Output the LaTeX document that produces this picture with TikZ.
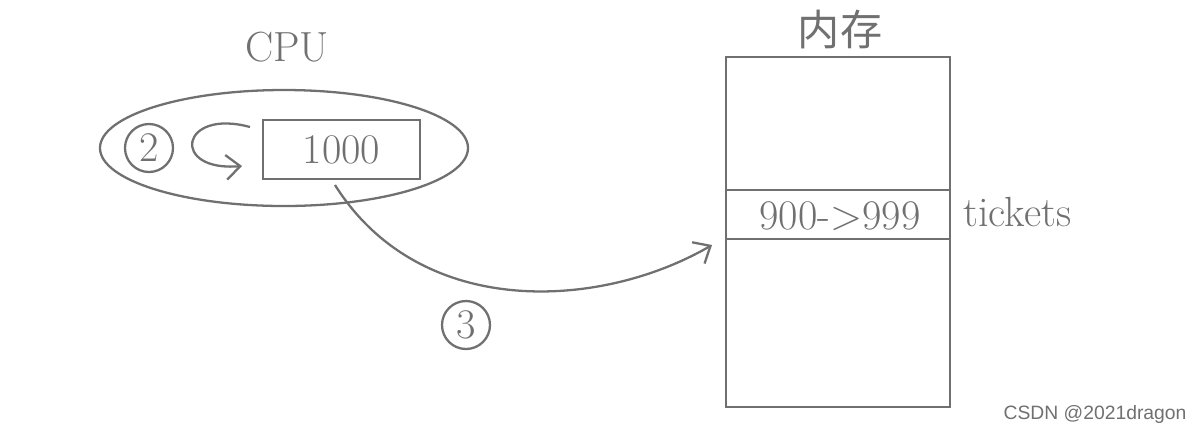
\documentclass[tikz,border=0pt]{standalone}
\usepackage{fontspec}
\newfontfamily\cjk{Noto Sans CJK SC}
\newfontfamily\wm{Liberation Sans}
\usetikzlibrary{arrows.meta,shapes.geometric}
\definecolor{g}{RGB}{112,112,112}
\begin{document}
\begin{tikzpicture}[x=0.02cm,y=-0.02cm,
  ln/.style={draw=g,line width=1.3pt},
  lbl/.style={text=g,font=\fontsize{24}{26}\selectfont},
  arr/.style={ln,-{Straight Barb[length=8pt,width=14pt]}}]
\useasboundingbox (0,0) rectangle (1200,434);
\node[ln,ellipse,minimum width=368*0.02cm,minimum height=116*0.02cm,inner sep=0] (cpu) at (284,148) {};
\node[lbl] (cpul) at (287,47) {CPU};
\node[ln,minimum width=157*0.02cm,minimum height=59*0.02cm,inner sep=0,lbl] (reg) at (341.5,149.5) {1000};
\node[ln,circle,minimum size=48*0.02cm,inner sep=0,lbl] (c2) at (149,148) {2};
\coordinate (l1) at (250,127);
\coordinate (l2) at (242,166);
\draw[arr] (l1) .. controls (180,108) and (170,172) .. (l2);
\node[ln,minimum width=224*0.02cm,minimum height=350*0.02cm,inner sep=0] (mem) at (838,232) {};
\coordinate (a1) at (726,190); \coordinate (a2) at (950,190);
\coordinate (b1) at (726,239); \coordinate (b2) at (950,239);
\draw[ln] (a1)--(a2); \draw[ln] (b1)--(b2);
\node[lbl] (val) at (840,216) {900->999};
\node[lbl,anchor=west] (tk) at (957,212) {tickets};
\node[text=g,font=\cjk\fontsize{24}{26}\selectfont] (nc) at (840,30) {内存};
\coordinate (s) at (335,185); \coordinate (e) at (712,245);
\draw[arr] (s) .. controls (420,320) and (600,310) .. (e);
\node[ln,circle,minimum size=48*0.02cm,inner sep=0,lbl] (c3) at (466,325) {3};
\node[text=g,font=\wm\fontsize{11}{12}\selectfont] (w) at (1095,414) {CSDN @2021dragon};
\end{tikzpicture}
\end{document}
